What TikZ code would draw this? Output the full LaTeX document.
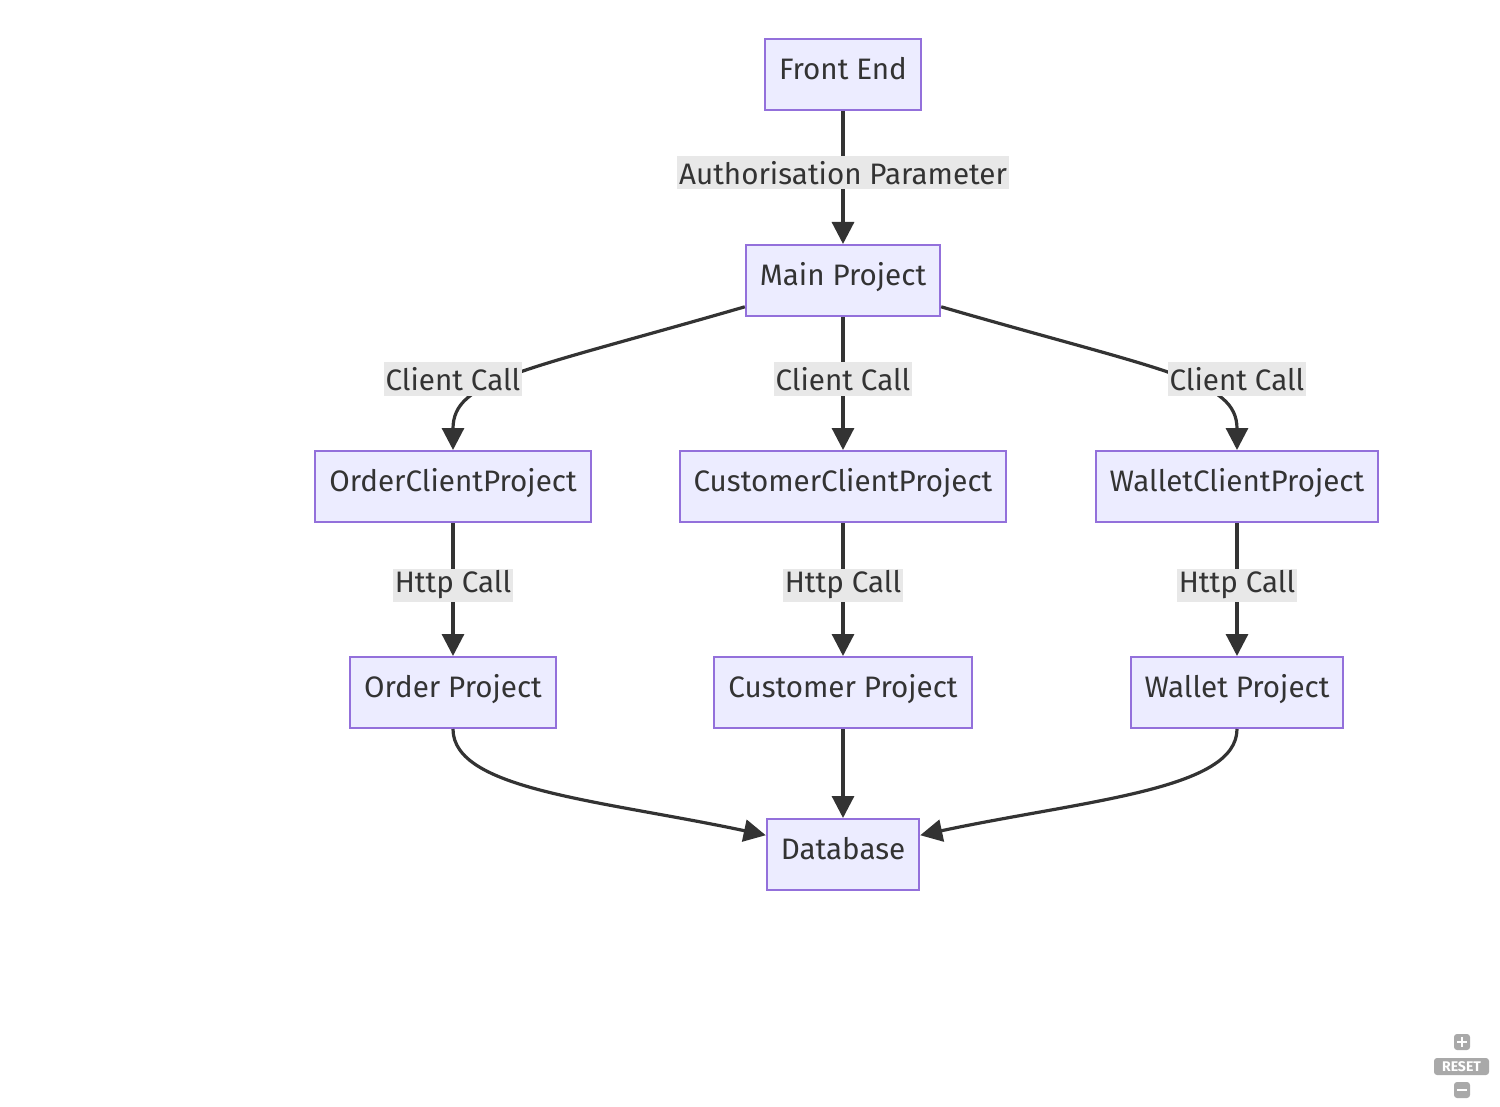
\documentclass[tikz,border=0pt]{standalone}
\usepackage{fontspec}
\setmainfont{Fira Sans}
\usetikzlibrary{arrows.meta}
\definecolor{boxfill}{HTML}{ECECFF}
\definecolor{boxline}{HTML}{9370DB}
\definecolor{ink}{HTML}{333333}
\definecolor{lblfill}{HTML}{E8E8E8}
\definecolor{ctrlgray}{HTML}{A9A9A9}
\begin{document}
\begin{tikzpicture}[x=0.5pt,y=0.5pt,
  box/.style={draw=boxline,fill=boxfill,line width=1pt,minimum height=35.5pt,
    inner xsep=7pt,text height=10pt,text depth=5pt,text=ink,font=\fontsize{14.8}{16}\selectfont},
  lbl/.style={fill=lblfill,inner xsep=1pt,inner ysep=0pt,minimum height=16.5pt,
    text=ink,font=\fontsize{14.8}{16}\selectfont},
  edge/.style={draw=ink,line width=1.6pt,-{Triangle[length=11pt,width=11pt]}},
  ctrl/.style={fill=ctrlgray,rounded corners=1.5pt,minimum size=8pt,inner sep=0pt}]
\useasboundingbox (0,0) rectangle (1500,-1107);
  % boxes
  \node[box] (front) at (843,-74.5) {Front End};
  \node[box] (main) at (843,-280.5) {Main Project};
  \node[box] (oc) at (453,-486.5) {OrderClientProject};
  \node[box] (cc) at (843,-486.5) {CustomerClientProject};
  \node[box] (wc) at (1237,-486.5) {WalletClientProject};
  \node[box] (op) at (453,-692.5) {Order Project};
  \node[box] (cp) at (843,-692.5) {Customer Project};
  \node[box] (wp) at (1237,-692.5) {Wallet Project};
  \node[box] (db) at (843,-854.5) {Database};
  % edges
  \draw[edge] (front.south) -- (main.north);
  \draw[edge] (main.195) .. controls (520,-372) and (453,-380) .. (oc.north);
  \draw[edge] (main.south) -- (cc.north);
  \draw[edge] (main.-15) .. controls (1166,-372) and (1237,-380) .. (wc.north);
  \draw[edge] (oc.south) -- (op.north);
  \draw[edge] (cc.south) -- (cp.north);
  \draw[edge] (wc.south) -- (wp.north);
  \draw[edge] (op.south) .. controls (453,-790) and (600,-800) .. (db.166);
  \draw[edge] (cp.south) -- (db.north);
  \draw[edge] (wp.south) .. controls (1237,-790) and (1086,-800) .. (db.14);
  % edge labels
  \node[lbl] (auth) at (843,-173) {Authorisation Parameter};
  \node[lbl] (callO) at (453,-379) {Client Call};
  \node[lbl] (callC) at (843,-379) {Client Call};
  \node[lbl] (callW) at (1237,-379) {Client Call};
  \node[lbl] (httpO) at (453,-585) {Http Call};
  \node[lbl] (httpC) at (843,-585) {Http Call};
  \node[lbl] (httpW) at (1237,-585) {Http Call};
  % zoom buttons
  \node[ctrl] (zoomin) at (1462,-1042) {};
  \draw[white,line width=1.2pt] ([xshift=-2.5pt]zoomin.center) -- ([xshift=2.5pt]zoomin.center)
    ([yshift=-2.5pt]zoomin.center) -- ([yshift=2.5pt]zoomin.center);
  \node[ctrl,minimum width=27.5pt,minimum height=8.5pt,text=white,
    font=\bfseries\fontsize{7}{7}\selectfont] (reset) at (1461.5,-1066.5) {RESET};
  \node[ctrl] (zoomout) at (1462,-1090) {};
  \draw[white,line width=1.2pt] ([xshift=-2.5pt]zoomout.center) -- ([xshift=2.5pt]zoomout.center);
\end{tikzpicture}
\end{document}
